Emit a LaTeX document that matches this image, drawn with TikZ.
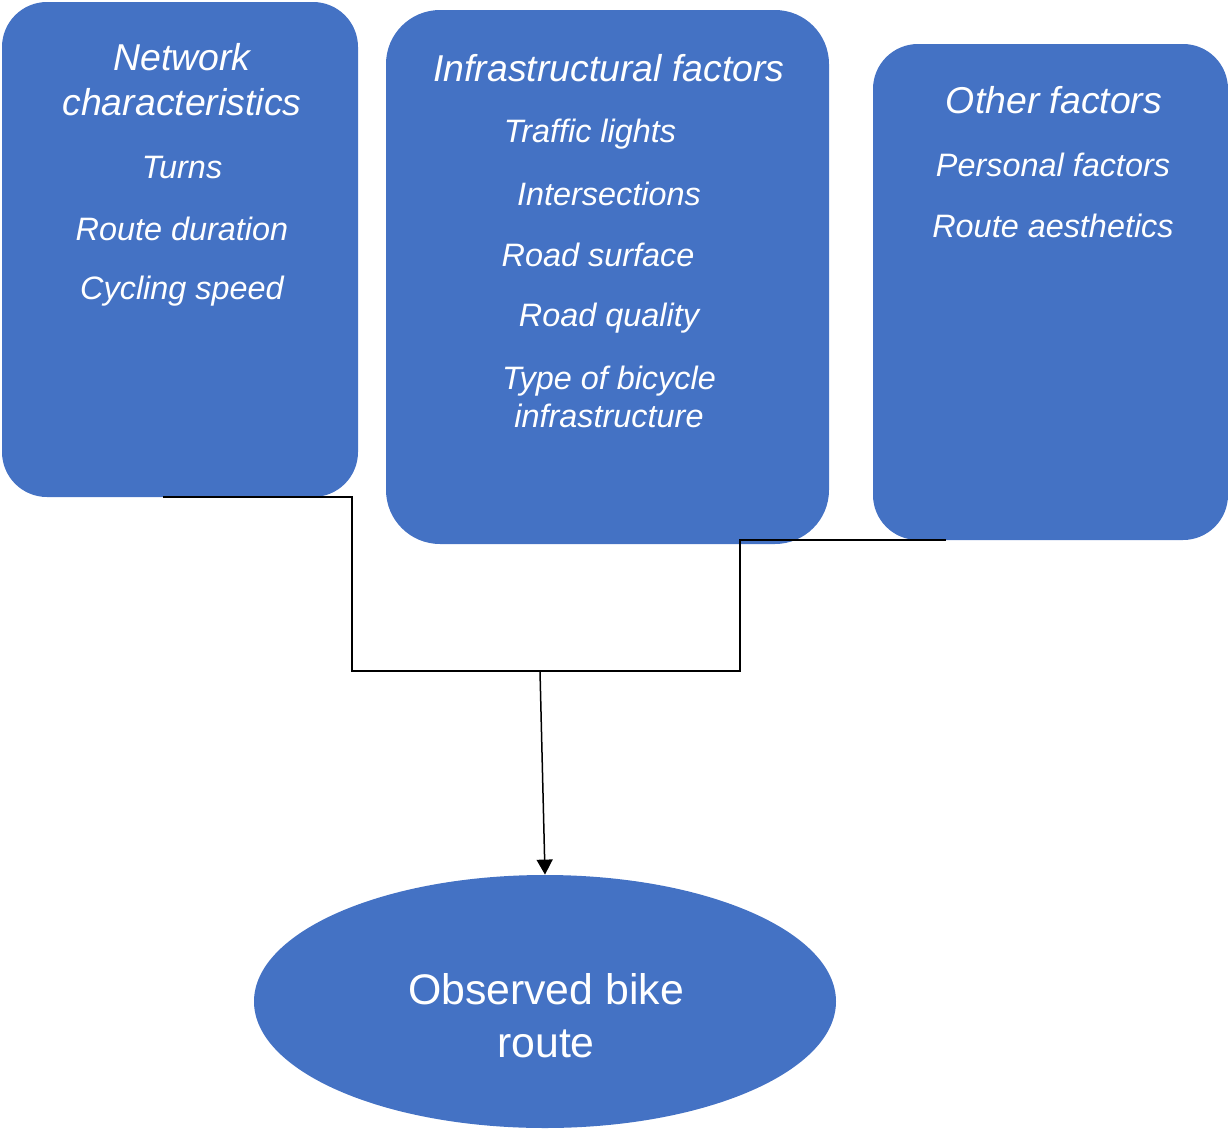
\documentclass[tikz,border=0pt]{standalone}
\usepackage{fontspec}
\setmainfont{Liberation Sans}
\usetikzlibrary{shapes.geometric,arrows.meta}
\definecolor{boxblue}{HTML}{4472C4}
\begin{document}
\begin{tikzpicture}[x=0.5pt,y=-0.5pt,
  box/.style={fill=boxblue,draw=none,inner sep=0pt,rectangle},
  hdr/.style={text=white,font=\fontsize{18.7}{22.5}\selectfont\itshape,align=center,inner sep=0pt},
  itm/.style={text=white,font=\fontsize{16.2}{19}\selectfont\itshape,align=center,inner sep=0pt},
  conn/.style={draw=black,line width=0.75pt},
  arr/.style={conn,-{Triangle[width=8pt,length=7.5pt]}}]
\useasboundingbox (0,0) rectangle (1228,1130);
% boxes
\node[box,rounded corners=22.5pt,minimum width=178pt,minimum height=247.5pt] (b1) at (180,249.5) {};
\node[box,rounded corners=27pt,minimum width=221.5pt,minimum height=267pt] (b2) at (607.5,277) {};
\node[box,rounded corners=22.5pt,minimum width=177.5pt,minimum height=248pt] (b3) at (1050.5,292) {};
\node[ellipse,fill=boxblue,draw=none,inner sep=0pt,minimum width=291pt,minimum height=126.5pt] (el) at (545,1001.5) {};
% texts box 1
\node[hdr] (t1) at (182,80) {Network\\characteristics};
\node[itm] (t1a) at (182,168) {Turns};
\node[itm] (t1b) at (182,229) {Route duration};
\node[itm] (t1c) at (182,291) {Cycling speed};
% texts box 2
\node[hdr] (t2) at (609,68) {Infrastructural factors};
\node[itm] (t2a) at (590,134) {Traffic lights};
\node[itm] (t2b) at (609,194) {Intersections};
\node[itm] (t2c) at (598,255) {Road surface};
\node[itm] (t2d) at (609,318) {Road quality};
\node[itm] (t2e) at (609,397) {Type of bicycle\\infrastructure};
% texts box 3
\node[hdr] (t3) at (1054,100) {Other factors};
\node[itm] (t3a) at (1053,165) {Personal factors};
\node[itm] (t3b) at (1053,226) {Route aesthetics};
% ellipse text
\node[text=white,font=\fontsize{21.4}{26.5}\selectfont,align=center,inner sep=0pt] (te) at (546,1016) {Observed bike\\route};
% connectors
\coordinate (c1) at (163,497);
\coordinate (c2) at (352,497);
\coordinate (c3) at (352,671);
\coordinate (j) at (540,671);
\coordinate (c4) at (740,671);
\coordinate (c5) at (740,540);
\coordinate (c6) at (946,540);
\draw[conn] (c1) -- (c2) -- (c3) -- (c4) -- (c5) -- (c6);
\draw[arr] (j) -- (el.north);
\end{tikzpicture}
\end{document}
